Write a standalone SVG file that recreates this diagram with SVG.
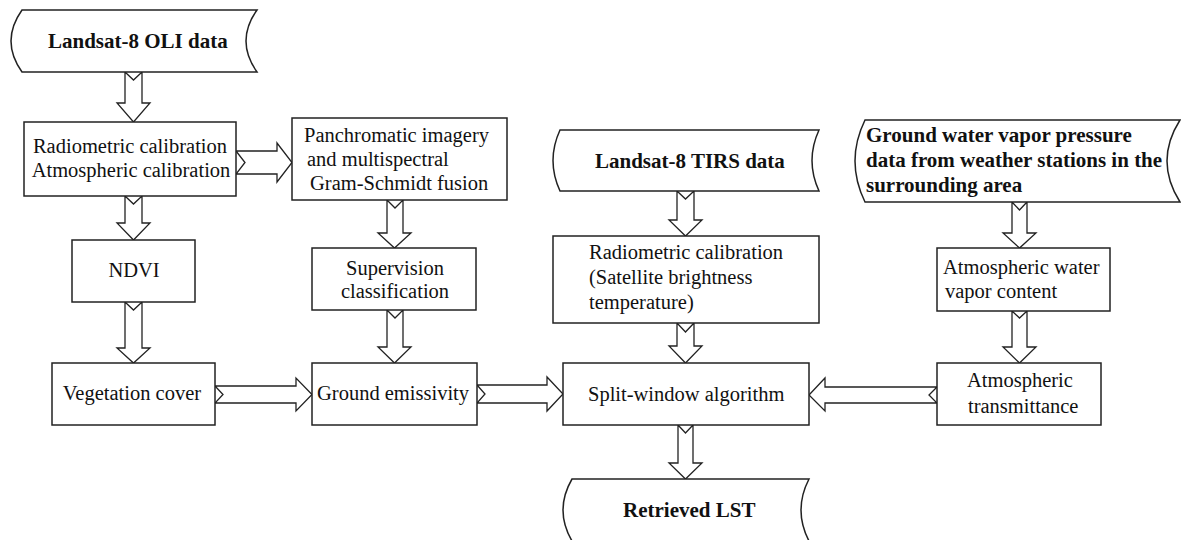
<svg xmlns="http://www.w3.org/2000/svg" width="1181" height="540" viewBox="0 0 1181 540">
<style>
.box{fill:#fff;stroke:#222;stroke-width:1.5}
.arr{fill:#fff;stroke:#222;stroke-width:1.3;stroke-linejoin:miter}
.t{font-family:"Liberation Serif","Times New Roman",serif;font-size:20.5px;fill:#111}
.b{font-family:"Liberation Serif","Times New Roman",serif;font-size:21px;font-weight:bold;fill:#111}
.m{text-anchor:middle}
</style>
<rect width="1181" height="540" fill="#fff"/>
<g id="connectors">
<path class="arr" d="M125,72 L133.5,80 L142,72 L142,103 L150,103 L133.5,122 L117,103 L125,103 Z"/>
<path class="arr" d="M125,196 L133.5,204 L142,196 L142,223 L150,223 L133.5,240 L117,223 L125,223 Z"/>
<path class="arr" d="M125,302 L133.5,310 L142,302 L142,348 L150,348 L133.5,363 L117,348 L125,348 Z"/>
<path class="arr" d="M387,200 L395,208 L403,200 L403,233 L411,233 L394.5,248 L378,233 L387,233 Z"/>
<path class="arr" d="M387,310 L395,318 L403,310 L403,347 L411,347 L394.5,363 L378,347 L387,347 Z"/>
<path class="arr" d="M677,191 L685.5,199 L694,191 L694,220 L702,220 L685.5,236 L669,220 L677,220 Z"/>
<path class="arr" d="M677,323 L685.5,332 L694,323 L694,346 L702,346 L685.5,363 L669,346 L677,346 Z"/>
<path class="arr" d="M678,425 L685.5,433 L693,425 L693,463 L702,463 L685.5,479 L669,463 L678,463 Z"/>
<path class="arr" d="M1012,202 L1019.5,210 L1027,202 L1027,233 L1036,233 L1019.5,248 L1003,233 L1012,233 Z"/>
<path class="arr" d="M1012,311 L1019.5,318 L1027,311 L1027,347 L1036,347 L1019.5,363 L1003,347 L1012,347 Z"/>
<path class="arr" d="M236,151 L245,162.5 L236,174 L277,174 L277,182 L292,162.5 L277,143 L277,151 Z"/>
<path class="arr" d="M215,386 L223,394.5 L215,403 L296,403 L296,411 L312,394.5 L296,378 L296,386 Z"/>
<path class="arr" d="M477,385 L485,394 L477,403 L547,403 L547,411 L563,394 L547,377 L547,385 Z"/>
<path class="arr" d="M937,387 L929,395 L937,403 L825,403 L825,411 L809,395 L825,378 L825,387 Z"/>
</g>
<g id="oli-data">
<path class="box" d="M22,10 L257,10 Q235,41 257,72 L22,72 Q0,41 22,10 Z"/>
<text class="b" x="48" y="48">Landsat-8 OLI data</text>
</g>
<g id="oli-calibration">
<rect class="box" x="24" y="122" width="212" height="74"/>
<text class="t m" x="130" y="153">Radiometric calibration</text>
<text class="t m" x="131" y="177">Atmospheric calibration</text>
</g>
<g id="fusion">
<rect class="box" x="292" y="118" width="215" height="82"/>
<text class="t" x="304" y="142">Panchromatic imagery</text>
<text class="t" x="307" y="166">and multispectral</text>
<text class="t" x="310" y="190">Gram-Schmidt fusion</text>
</g>
<g id="ndvi">
<rect class="box" x="72" y="240" width="123" height="62"/>
<text class="t m" x="134" y="277">NDVI</text>
</g>
<g id="supervision">
<rect class="box" x="312" y="248" width="164" height="62"/>
<text class="t m" x="395" y="275">Supervision</text>
<text class="t m" x="395" y="298">classification</text>
</g>
<g id="vegetation">
<rect class="box" x="52" y="363" width="163" height="62"/>
<text class="t m" x="132" y="400">Vegetation cover</text>
</g>
<g id="emissivity">
<rect class="box" x="312" y="363" width="165" height="62"/>
<text class="t" x="317" y="400">Ground emissivity</text>
</g>
<g id="tirs-data">
<path class="box" d="M560,130 L819,130 Q805,160.5 819,191 L560,191 Q546,160.5 560,130 Z"/>
<text class="b" x="595" y="168">Landsat-8 TIRS data</text>
</g>
<g id="tirs-calibration">
<rect class="box" x="553" y="236" width="266" height="87"/>
<text class="t" x="589" y="259">Radiometric calibration</text>
<text class="t" x="589" y="284">(Satellite brightness</text>
<text class="t" x="589" y="309">temperature)</text>
</g>
<g id="split-window">
<rect class="box" x="563" y="363" width="246" height="62"/>
<text class="t" x="588" y="401">Split-window algorithm</text>
</g>
<g id="retrieved-lst">
<path class="box" d="M572,479 L809,479 Q793,510 809,541 L572,541 Q554,510 572,479 Z"/>
<text class="b" x="623" y="517">Retrieved LST</text>
</g>
<g id="ground-vapor">
<path class="box" d="M865,120 L1180,120 Q1154,161 1180,202 L865,202 Q845,161 865,120 Z"/>
<text class="b" x="866" y="142">Ground water vapor pressure</text>
<text class="b" x="866" y="167">data from weather stations in the</text>
<text class="b" x="866" y="192">surrounding area</text>
</g>
<g id="water-vapor-content">
<rect class="box" x="937" y="248" width="173" height="63"/>
<text class="t" x="943" y="274">Atmospheric water</text>
<text class="t" x="945" y="298">vapor content</text>
</g>
<g id="transmittance">
<rect class="box" x="937" y="363" width="164" height="62"/>
<text class="t" x="967" y="387">Atmospheric</text>
<text class="t" x="968" y="413">transmittance</text>
</g>
</svg>
